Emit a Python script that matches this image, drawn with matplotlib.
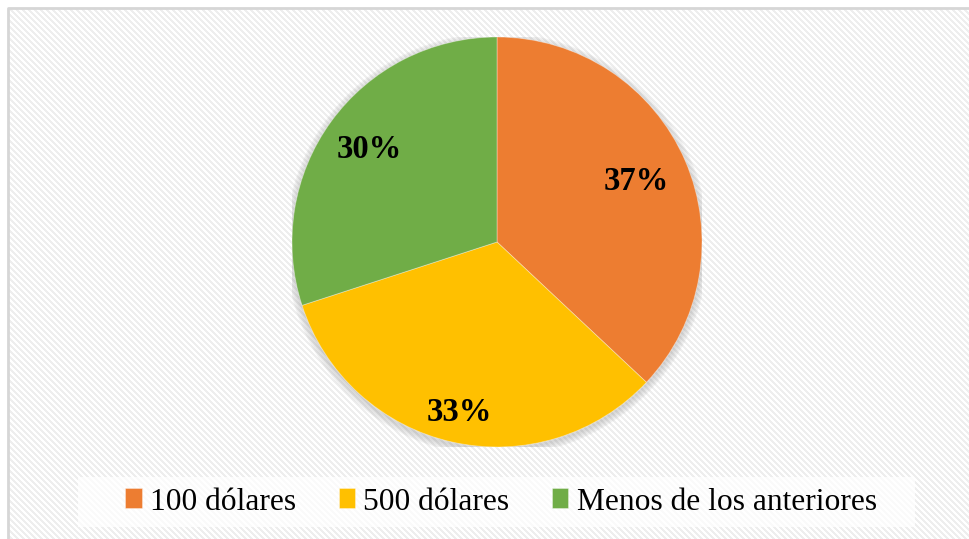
import matplotlib.pyplot as plt
import numpy as np
from matplotlib.patches import Rectangle, Circle

# datos
categorias = ["100 dólares", "500 dólares", "Menos de los anteriores"]
porcentajes = [37, 33, 30]
colores = ["#ED7D31", "#FFC000", "#70AD47"]
dist_etiquetas = [0.74, 0.85, 0.77]

plt.rcParams['font.family'] = ['Liberation Serif', 'DejaVu Serif']

W, H = 970, 539
fig = plt.figure(figsize=(W / 100, H / 100), dpi=100)

# fondo rayado
bg = fig.add_axes([0, 0, 1, 1])
yy, xx = np.mgrid[0:H, 0:W]
rayas = ((xx - yy) % 6) < 3
img = np.ones((H, W, 3))
img[rayas] = np.array([238, 238, 238]) / 255
img[:8, :] = 1
img[:, :8] = 1
bg.imshow(img, extent=[0, W, H, 0], interpolation='nearest', aspect='auto')
bg.plot([8, 8, W], [H, 8, 8], color="#d6d6d6", lw=2)
bg.set_xlim(0, W)
bg.set_ylim(H, 0)
bg.axis('off')

# caja de la leyenda
bg.add_patch(Rectangle((78, 477), 837, 50, facecolor='white', alpha=0.75,
                       edgecolor='none'))

# pastel
cx, cy, r = 497, 242, 205
ax = fig.add_axes([(cx - r) / W, 1 - (cy + r) / H, 2 * r / W, 2 * r / H])
for k in range(6):
    ax.add_patch(Circle((0, -0.012), 1.0 + 0.006 * k, color='gray',
                        alpha=0.05, zorder=0))
wedges, _ = ax.pie(porcentajes, colors=colores, startangle=90,
                   counterclock=False, radius=1,
                   wedgeprops=dict(edgecolor=(1, 1, 1, 0.4), linewidth=0.6))
for w, p, d in zip(wedges, porcentajes, dist_etiquetas):
    ang = np.deg2rad((w.theta1 + w.theta2) / 2)
    ax.text(d * np.cos(ang), d * np.sin(ang), f"{p}%", ha='center',
            va='center', fontsize=23.5, fontweight='bold', color='black')
ax.set_xlim(-1, 1)
ax.set_ylim(-1, 1)
ax.axis('off')

leg = fig.legend(wedges, categorias, loc='center',
                 bbox_to_anchor=(501 / W, 1 - 502 / H), ncol=3,
                 frameon=False, fontsize=22.7, handlelength=0.52,
                 handleheight=0.6, handletextpad=0.26, columnspacing=1.35)

fig.savefig("out.png", dpi=100)
